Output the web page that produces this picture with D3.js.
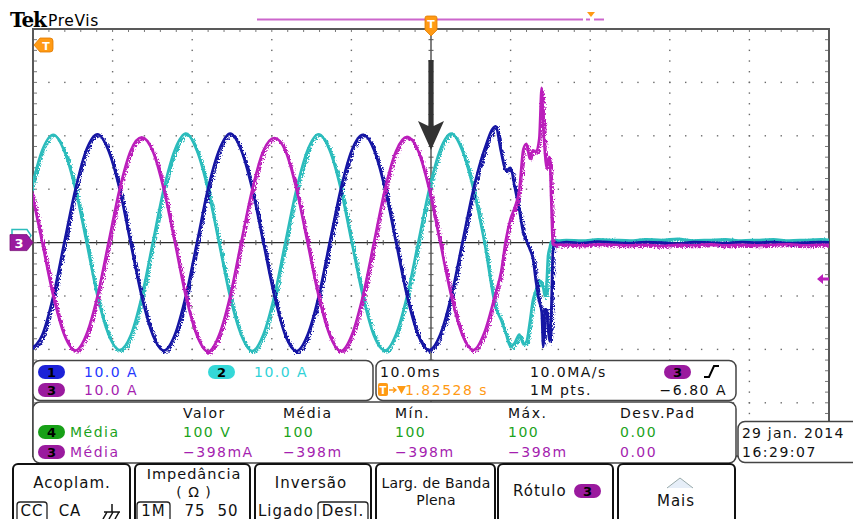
<!DOCTYPE html>
<html><head><meta charset="utf-8">
<script src="https://cdn.jsdelivr.net/npm/d3@7"></script>
<style>
html,body{margin:0;padding:0;background:#fff;}
svg{display:block;font-family:"DejaVu Sans",sans-serif;}
</style></head><body>
<svg id="scope" width="853" height="519"></svg>
<script>
// ---- acquisition: time in ms relative to the trigger point, current in A ----
const sampleMs = [
  -50.23,-48.84,-47.45,-46.06,-44.67,-43.29,-41.90,-40.51,-39.12,-37.73,-36.34,-34.95,
  -33.56,-32.17,-30.79,-29.40,-28.01,-26.62,-25.23,-23.84,-22.45,-21.06,-19.67,-18.29,
  -16.90,-15.51,-14.12,-12.73,-11.34,-9.95,-8.56,-7.17,-5.78,-4.40,-3.01,-1.62,
  -0.23,1.16,2.55,3.94,5.33,6.72,8.11,
  8.8,9.4,10.0,10.5,11.1,11.6,12.0,12.4,12.8,13.2,13.6,13.9,14.1,14.3,14.5,14.7,14.9,15.1,15.3,15.5,15.7,16.0,
  17,19,21,23,25,27,29,31,33,35,37,39,41,43,45,47,49,50.5
];
// channel 1 (blue)
const ch1Amps = [
  -19.8,-17.3,-10,0.1,10,17.4,20.3,17.2,10,-0.1,-10.1,-17.3,
  -20.2,-17.2,-9.9,0,10.1,17.3,20.4,17.3,10,0,-10,-17.4,
  -20.3,-17.3,-10.1,0,10,17.3,20.2,17.4,10.1,0.1,-10,-17.3,
  -20.1,-17.2,-10,0,10,17.5,21.8,
  17,13.5,14,10.5,6,1.8,0.3,-1.2,-3,-7.5,-11,-13,-19.5,-12.5,-12.5,-16,-18.5,-13,-2,0.2,0,-0.1,
  0.1,-0.1,0.2,0,-0.1,0.1,0,-0.2,0.1,0,-0.1,0.1,0,0.1,-0.1,0,0.1,0
];
// channel 2 (cyan)
const ch2Amps = [
  10,17.3,20.2,17.1,10,0.2,-10,-17.2,-20.1,-17.4,-10.1,0,
  10.1,17.4,20.4,17.2,9.9,-0.1,-10.2,-17.3,-20.3,-17.2,-9.9,0.1,
  10,17.3,20.3,17.3,10.1,0,-10,-17.4,-20.2,-17.2,-10,-0.1,
  10,17.4,20.4,17.2,10,0,-12,
  -14.5,-17,-19.5,-18.8,-17.2,-19,-18.5,-15,-10.8,-8.8,-7,-7.8,-8.5,-10,-8,-2.5,-1,0.2,0.4,0.4,0.5,0.4,
  0.5,0.4,0.6,0.5,0.4,0.6,0.5,0.7,0.4,0.5,0.6,0.4,0.5,0.6,0.4,0.5,0.6,0.5
];
// channel 3 (magenta)
const ch3Amps = [
  10,0,-10,-17.3,-20.2,-17.2,-10,0,10,17.2,19.7,17.1,
  9.9,0,-10.1,-17.4,-20.4,-17.3,-10,0.1,10,17.2,19.6,17.2,
  10,0,-10,-17.3,-20.3,-17.3,-10,0,10,17.1,19.8,17.2,
  10,0,-10,-17.3,-20.1,-16.8,-9.5,
  -5.5,0.5,4.5,6.5,10,17.5,18.5,15.7,17.3,17,19.5,29,22,17,14,15.5,16,8,-0.2,-0.5,-0.4,-0.4,
  -0.4,-0.5,-0.3,-0.4,-0.5,-0.4,-0.6,-0.4,-0.5,-0.3,-0.5,-0.4,-0.5,-0.4,-0.3,-0.5,-0.4,-0.4
];

// readout texts
const scaleLabels = ["10.0 A", "10.0 A", "10.0 A"];
const timebaseLabels = ["10.0ms", "10.0MA/s", "1.82528 s", "1M pts.", "\u22126.80 A"];
const measureHeaders = ["Valor", "Média", "Mín.", "Máx.", "Desv.Pad"];
const measureCh4 = ["100 V", "100", "100", "100", "0.00"];
const measureCh3 = ["\u2212398mA", "\u2212398m", "\u2212398m", "\u2212398m", "0.00"];
const dateLines = ["29 jan. 2014", "16:29:07"];

const COL = {
  ch1: "#1616a4", ch1txt: "#2438ff", ch1badge: "#1c22d8",
  ch2: "#2cbcbc", ch2txt: "#30d2d8", ch2badge: "#34d8d8",
  ch3: "#bb1fbb", ch3txt: "#a51fb0", ch3badge: "#9a1a9e",
  ch4txt: "#1ba31b", ch4badge: "#17a017",
  orange: "#ff9a14"
};

const svg = d3.select("#scope");
const defs = svg.append("defs");

// graticule: 10 x 8 divisions
const x = d3.scaleLinear().domain([-50, 50]).range([33, 829]);
const y = d3.scaleLinear().domain([-40, 40]).range([456.2, 29]);

defs.append("clipPath").attr("id", "plotClip")
  .append("rect").attr("x", x(-50)).attr("y", y(40))
  .attr("width", x(50) - x(-50)).attr("height", y(-40) - y(40));

// noisy trace texture
[["jit1", 3], ["jit2", 7], ["jit3", 11]].forEach(([id, seed]) => {
  const f = defs.append("filter").attr("id", id)
    .attr("x", "-2%").attr("y", "-5%").attr("width", "104%").attr("height", "110%");
  f.append("feTurbulence").attr("type", "turbulence").attr("baseFrequency", "0.9 0.35")
    .attr("numOctaves", 2).attr("seed", seed).attr("result", "n");
  f.append("feDisplacementMap").attr("in", "SourceGraphic").attr("in2", "n")
    .attr("scale", 6).attr("xChannelSelector", "R").attr("yChannelSelector", "G");
});

const grid = svg.append("g");
const majorX = d3.range(-40, 41, 10).filter(v => v !== 0);
const majorY = d3.range(-30, 31, 10).filter(v => v !== 0);
const minorX = d3.range(-50, 50.001, 2);
const minorY = d3.range(-40, 40.001, 2);

// dotted division lines
majorX.forEach(v => minorY.forEach(m => grid.append("rect")
  .attr("x", x(v) - 0.7).attr("y", y(m) - 0.7).attr("width", 1.4).attr("height", 1.4).attr("fill", "#6a6a6a")));
majorY.forEach(v => minorX.forEach(m => grid.append("rect")
  .attr("x", x(m) - 0.7).attr("y", y(v) - 0.7).attr("width", 1.4).attr("height", 1.4).attr("fill", "#6a6a6a")));

// center cross with minor ticks
grid.append("line").attr("x1", x(-50)).attr("x2", x(50)).attr("y1", y(0)).attr("y2", y(0))
  .attr("stroke", "#2a2a2a").attr("stroke-width", 1.2);
grid.append("line").attr("x1", x(0)).attr("x2", x(0)).attr("y1", y(40)).attr("y2", y(-40))
  .attr("stroke", "#2a2a2a").attr("stroke-width", 1.2);
minorX.forEach(m => grid.append("line").attr("x1", x(m)).attr("x2", x(m))
  .attr("y1", y(0) - 2.5).attr("y2", y(0) + 2.5).attr("stroke", "#555").attr("stroke-width", 1));
minorY.forEach(m => grid.append("line").attr("y1", y(m)).attr("y2", y(m))
  .attr("x1", x(0) - 2.5).attr("x2", x(0) + 2.5).attr("stroke", "#555").attr("stroke-width", 1));
// border ticks
minorY.forEach(m => {
  grid.append("line").attr("x1", x(-50)).attr("x2", x(-50) + 4).attr("y1", y(m)).attr("y2", y(m))
    .attr("stroke", "#777").attr("stroke-width", 1);
  grid.append("line").attr("x1", x(50) - 4).attr("x2", x(50)).attr("y1", y(m)).attr("y2", y(m))
    .attr("stroke", "#777").attr("stroke-width", 1);
});
minorX.forEach(m => grid.append("line").attr("x1", x(m)).attr("x2", x(m))
  .attr("y1", y(40)).attr("y2", y(40) + 3).attr("stroke", "#777").attr("stroke-width", 1));
grid.append("rect").attr("x", x(-50)).attr("y", y(40))
  .attr("width", x(50) - x(-50)).attr("height", y(-40) - y(40))
  .attr("fill", "none").attr("stroke", "#595959").attr("stroke-width", 2);

// traces
const line = d3.line().x((d, i) => x(sampleMs[i])).y(d => y(d)).curve(d3.curveMonotoneX);
const traces = svg.append("g").attr("clip-path", "url(#plotClip)");
[[ch2Amps, COL.ch2, "jit2"], [ch1Amps, COL.ch1, "jit1"], [ch3Amps, COL.ch3, "jit3"]].forEach(([vals, c, f]) => {
  traces.append("path").attr("d", line(vals)).attr("fill", "none")
    .attr("stroke", c).attr("stroke-width", 2.6).attr("stroke-linejoin", "round");
  traces.append("path").attr("d", line(vals)).attr("fill", "none")
    .attr("stroke", c).attr("stroke-width", 2.2).attr("filter", `url(#${f})`);
});

// trigger annotation arrow at t = 0
const ax = x(0);
svg.append("path")
  .attr("d", `M${ax - 2.6},60 L${ax + 2.6},60 L${ax + 2.6},126 L${ax + 13},121 L${ax},150 L${ax - 13},121 L${ax - 2.6},126 Z`)
  .attr("fill", "#333");

// ---- header ----
svg.append("text").attr("x", 10).attr("y", 27).attr("font-family", "DejaVu Serif")
  .attr("font-weight", "bold").attr("font-size", 20).attr("letter-spacing", -1.2).text("Tek");
svg.append("text").attr("x", 48).attr("y", 26).attr("font-size", 15.5).attr("letter-spacing", 0.6).text("PreVis");
// record view bar
svg.append("line").attr("x1", 257).attr("x2", 583).attr("y1", 19.5).attr("y2", 19.5)
  .attr("stroke", "#cc66cc").attr("stroke-width", 2);
svg.append("line").attr("x1", 586).attr("x2", 590).attr("y1", 19.5).attr("y2", 19.5)
  .attr("stroke", "#cc66cc").attr("stroke-width", 2);
svg.append("line").attr("x1", 594).attr("x2", 604).attr("y1", 19.5).attr("y2", 19.5)
  .attr("stroke", "#cc66cc").attr("stroke-width", 2);
svg.append("path").attr("d", "M587,12 L595,12 L591,17 Z").attr("fill", COL.orange);

// trigger position marker (top)
svg.append("path")
  .attr("d", `M${ax - 6},18 Q${ax - 6},16 ${ax - 4},16 L${ax + 4},16 Q${ax + 6},16 ${ax + 6},18 L${ax + 6},30 L${ax},36 L${ax - 6},30 Z`)
  .attr("fill", COL.orange).attr("stroke", "#e07a00").attr("stroke-width", 0.8);
svg.append("text").attr("x", ax).attr("y", 27.5).attr("text-anchor", "middle")
  .attr("font-size", 11).attr("font-weight", "bold").attr("fill", "#fff").text("T");

// trigger marker (left, top)
svg.append("path").attr("d", "M34,45 L40,38 L50,38 Q53,38 53,41 L53,49 Q53,52 50,52 L40,52 Z")
  .attr("fill", COL.orange).attr("stroke", "#e07a00").attr("stroke-width", 0.8);
svg.append("text").attr("x", 46).attr("y", 49.5).attr("text-anchor", "middle")
  .attr("font-size", 11).attr("font-weight", "bold").attr("fill", "#fff").text("T");

// channel ground markers (left)
const gy = y(0);
svg.append("path").attr("d", `M12,${gy - 13} L27,${gy - 13} L31,${gy - 7} L27,${gy - 1} L12,${gy - 1} Z`)
  .attr("fill", "#fff").attr("stroke", COL.ch2).attr("stroke-width", 1.5);
svg.append("path").attr("d", `M10,${gy - 8} L27,${gy - 8} L33,${gy} L27,${gy + 8} L10,${gy + 8} Z`)
  .attr("fill", COL.ch3badge).attr("stroke", "#7a107a").attr("stroke-width", 0.8);
svg.append("text").attr("x", 19).attr("y", gy + 5).attr("text-anchor", "middle")
  .attr("font-size", 13).attr("font-weight", "bold").attr("fill", "#fff").text("3");

// trigger level marker (right) for channel 3
const ty = y(-6.8);
svg.append("path").attr("d", `M817,${ty} L823,${ty - 5} L823,${ty - 1.5} L829,${ty - 1.5} L829,${ty + 1.5} L823,${ty + 1.5} L823,${ty + 5} Z`)
  .attr("fill", COL.ch3);

// ---- readouts ----
const RO = { "font-size": 14, "letter-spacing": 1.5 };
function txt(g, xx, yy, s, fill, anchor) {
  const t = g.append("text").attr("x", xx).attr("y", yy).attr("dy", "0.36em")
    .attr("fill", fill || "#111").attr("text-anchor", anchor || "start").text(s);
  Object.entries(RO).forEach(([k, v]) => t.attr(k, v));
  return t;
}
function badge(g, bx, by, w, h, fill, label, tc) {
  g.append("rect").attr("x", bx).attr("y", by).attr("width", w).attr("height", h)
    .attr("rx", h / 2).attr("fill", fill);
  g.append("text").attr("x", bx + w / 2).attr("y", by + h / 2).attr("dy", "0.36em")
    .attr("text-anchor", "middle").attr("font-size", 13).attr("font-weight", "bold")
    .attr("fill", tc || "#000").text(label);
}
const ro = svg.append("g");
function box(bx, by, w, h) {
  ro.append("rect").attr("x", bx).attr("y", by).attr("width", w).attr("height", h)
    .attr("rx", 7).attr("fill", "#fff").attr("stroke", "#444").attr("stroke-width", 1.5);
}
box(33, 360.5, 340, 40);
box(376, 360.5, 360, 40);
box(33, 402, 703, 61);
box(738, 421.5, 125, 41);

// vertical scales
badge(ro, 38, 365, 27, 14, COL.ch1badge, "1");
txt(ro, 84, 372, scaleLabels[0], COL.ch1txt);
badge(ro, 208, 365, 27, 14, COL.ch2badge, "2");
txt(ro, 254, 372, scaleLabels[1], COL.ch2txt);
badge(ro, 38, 383, 27, 14, COL.ch3badge, "3");
txt(ro, 84, 390, scaleLabels[2], COL.ch3txt);

// timebase and trigger
txt(ro, 380, 372, timebaseLabels[0]);
txt(ro, 530, 372, timebaseLabels[1]);
badge(ro, 664, 365, 27, 14, COL.ch3badge, "3");
ro.append("path").attr("d", "M704,377 L709,377 L714,366 L719,366").attr("fill", "none")
  .attr("stroke", "#000").attr("stroke-width", 2);
ro.append("rect").attr("x", 378).attr("y", 383).attr("width", 10).attr("height", 13).attr("rx", 2).attr("fill", COL.orange);
ro.append("text").attr("x", 383).attr("y", 393.5).attr("text-anchor", "middle").attr("font-size", 10)
  .attr("font-weight", "bold").attr("fill", "#fff").text("T");
ro.append("path").attr("d", "M389,390 L395,390 M393,387.5 L396,390 L393,392.5").attr("stroke", COL.orange)
  .attr("stroke-width", 1.3).attr("fill", "none");
ro.append("path").attr("d", "M397,386 L406,386 L401.5,394 Z").attr("fill", COL.orange);
txt(ro, 405, 390, timebaseLabels[2], COL.orange);
txt(ro, 530, 390, timebaseLabels[3]);
txt(ro, 727, 390, timebaseLabels[4], "#111", "end");

// measurement table
const colX = [183, 283, 395, 508, 620];
measureHeaders.forEach((s, i) => txt(ro, colX[i], 413, s));
badge(ro, 38, 425, 27, 14, COL.ch4badge, "4");
txt(ro, 70, 432, "Média", COL.ch4txt);
measureCh4.forEach((s, i) => txt(ro, colX[i], 432, s, COL.ch4txt));
badge(ro, 38, 445, 27, 14, COL.ch3badge, "3");
txt(ro, 70, 452, "Média", COL.ch3txt);
measureCh3.forEach((s, i) => txt(ro, colX[i], 452, s, COL.ch3txt));

// date/time
txt(ro, 742, 433, dateLines[0]).attr("letter-spacing", 1.2);
txt(ro, 742, 452, dateLines[1]);

// ---- bottom menu ----
const menu = svg.append("g");
const buttons = [[13, 130], [135, 250], [255, 371], [376, 495], [498, 613], [618, 735]];
buttons.forEach(([a, b]) => menu.append("rect").attr("x", a).attr("y", 464).attr("width", b - a)
  .attr("height", 70).attr("rx", 5).attr("fill", "#fff").attr("stroke", "#111").attr("stroke-width", 2));
function mtxt(xx, yy, s, anchor, size, ls) {
  return menu.append("text").attr("x", xx).attr("y", yy).attr("dy", "0.36em")
    .attr("text-anchor", anchor || "middle").attr("font-size", size || 15)
    .attr("letter-spacing", ls == null ? 1 : ls).attr("fill", "#111").text(s);
}
function boxed(a, b, yy, s) {
  menu.append("rect").attr("x", a).attr("y", yy - 9).attr("width", b - a).attr("height", 20)
    .attr("rx", 3).attr("fill", "#fff").attr("stroke", "#222").attr("stroke-width", 1.3);
  mtxt((a + b) / 2, yy, s);
}
mtxt(72, 483, "Acoplam.");
boxed(17, 47, 511, "CC");
mtxt(70, 511, "CA");
menu.append("path").attr("d", "M112,504 L112,512 M104,512 L120,512 M107,512 L103,519 M113,512 L109,519 M119,512 L115,519")
  .attr("stroke", "#111").attr("stroke-width", 1.5).attr("fill", "none");
mtxt(194, 474, "Impedância", "middle", 14.5);
mtxt(194, 492, "( \u03A9 )", "middle", 14).style("white-space", "pre");
boxed(137, 170, 511, "1M");
mtxt(195, 511, "75");
mtxt(228, 511, "50");
mtxt(311, 483, "Inversão");
mtxt(258, 511, "Ligado", "start");
boxed(318, 368, 511, "Desl.");
mtxt(436, 483, "Larg. de Banda", "middle", 14, 0.2);
mtxt(436, 500, "Plena", "middle", 14, 0.2);
mtxt(513, 491, "Rótulo", "start");
badge(menu, 574, 484, 27, 14, COL.ch3badge, "3");
menu.append("path").attr("d", "M667,488 L680,478 L693,488").attr("fill", "#e6eef8")
  .attr("stroke", "#9aa").attr("stroke-width", 1);
mtxt(676, 501, "Mais");
</script>
</body></html>
